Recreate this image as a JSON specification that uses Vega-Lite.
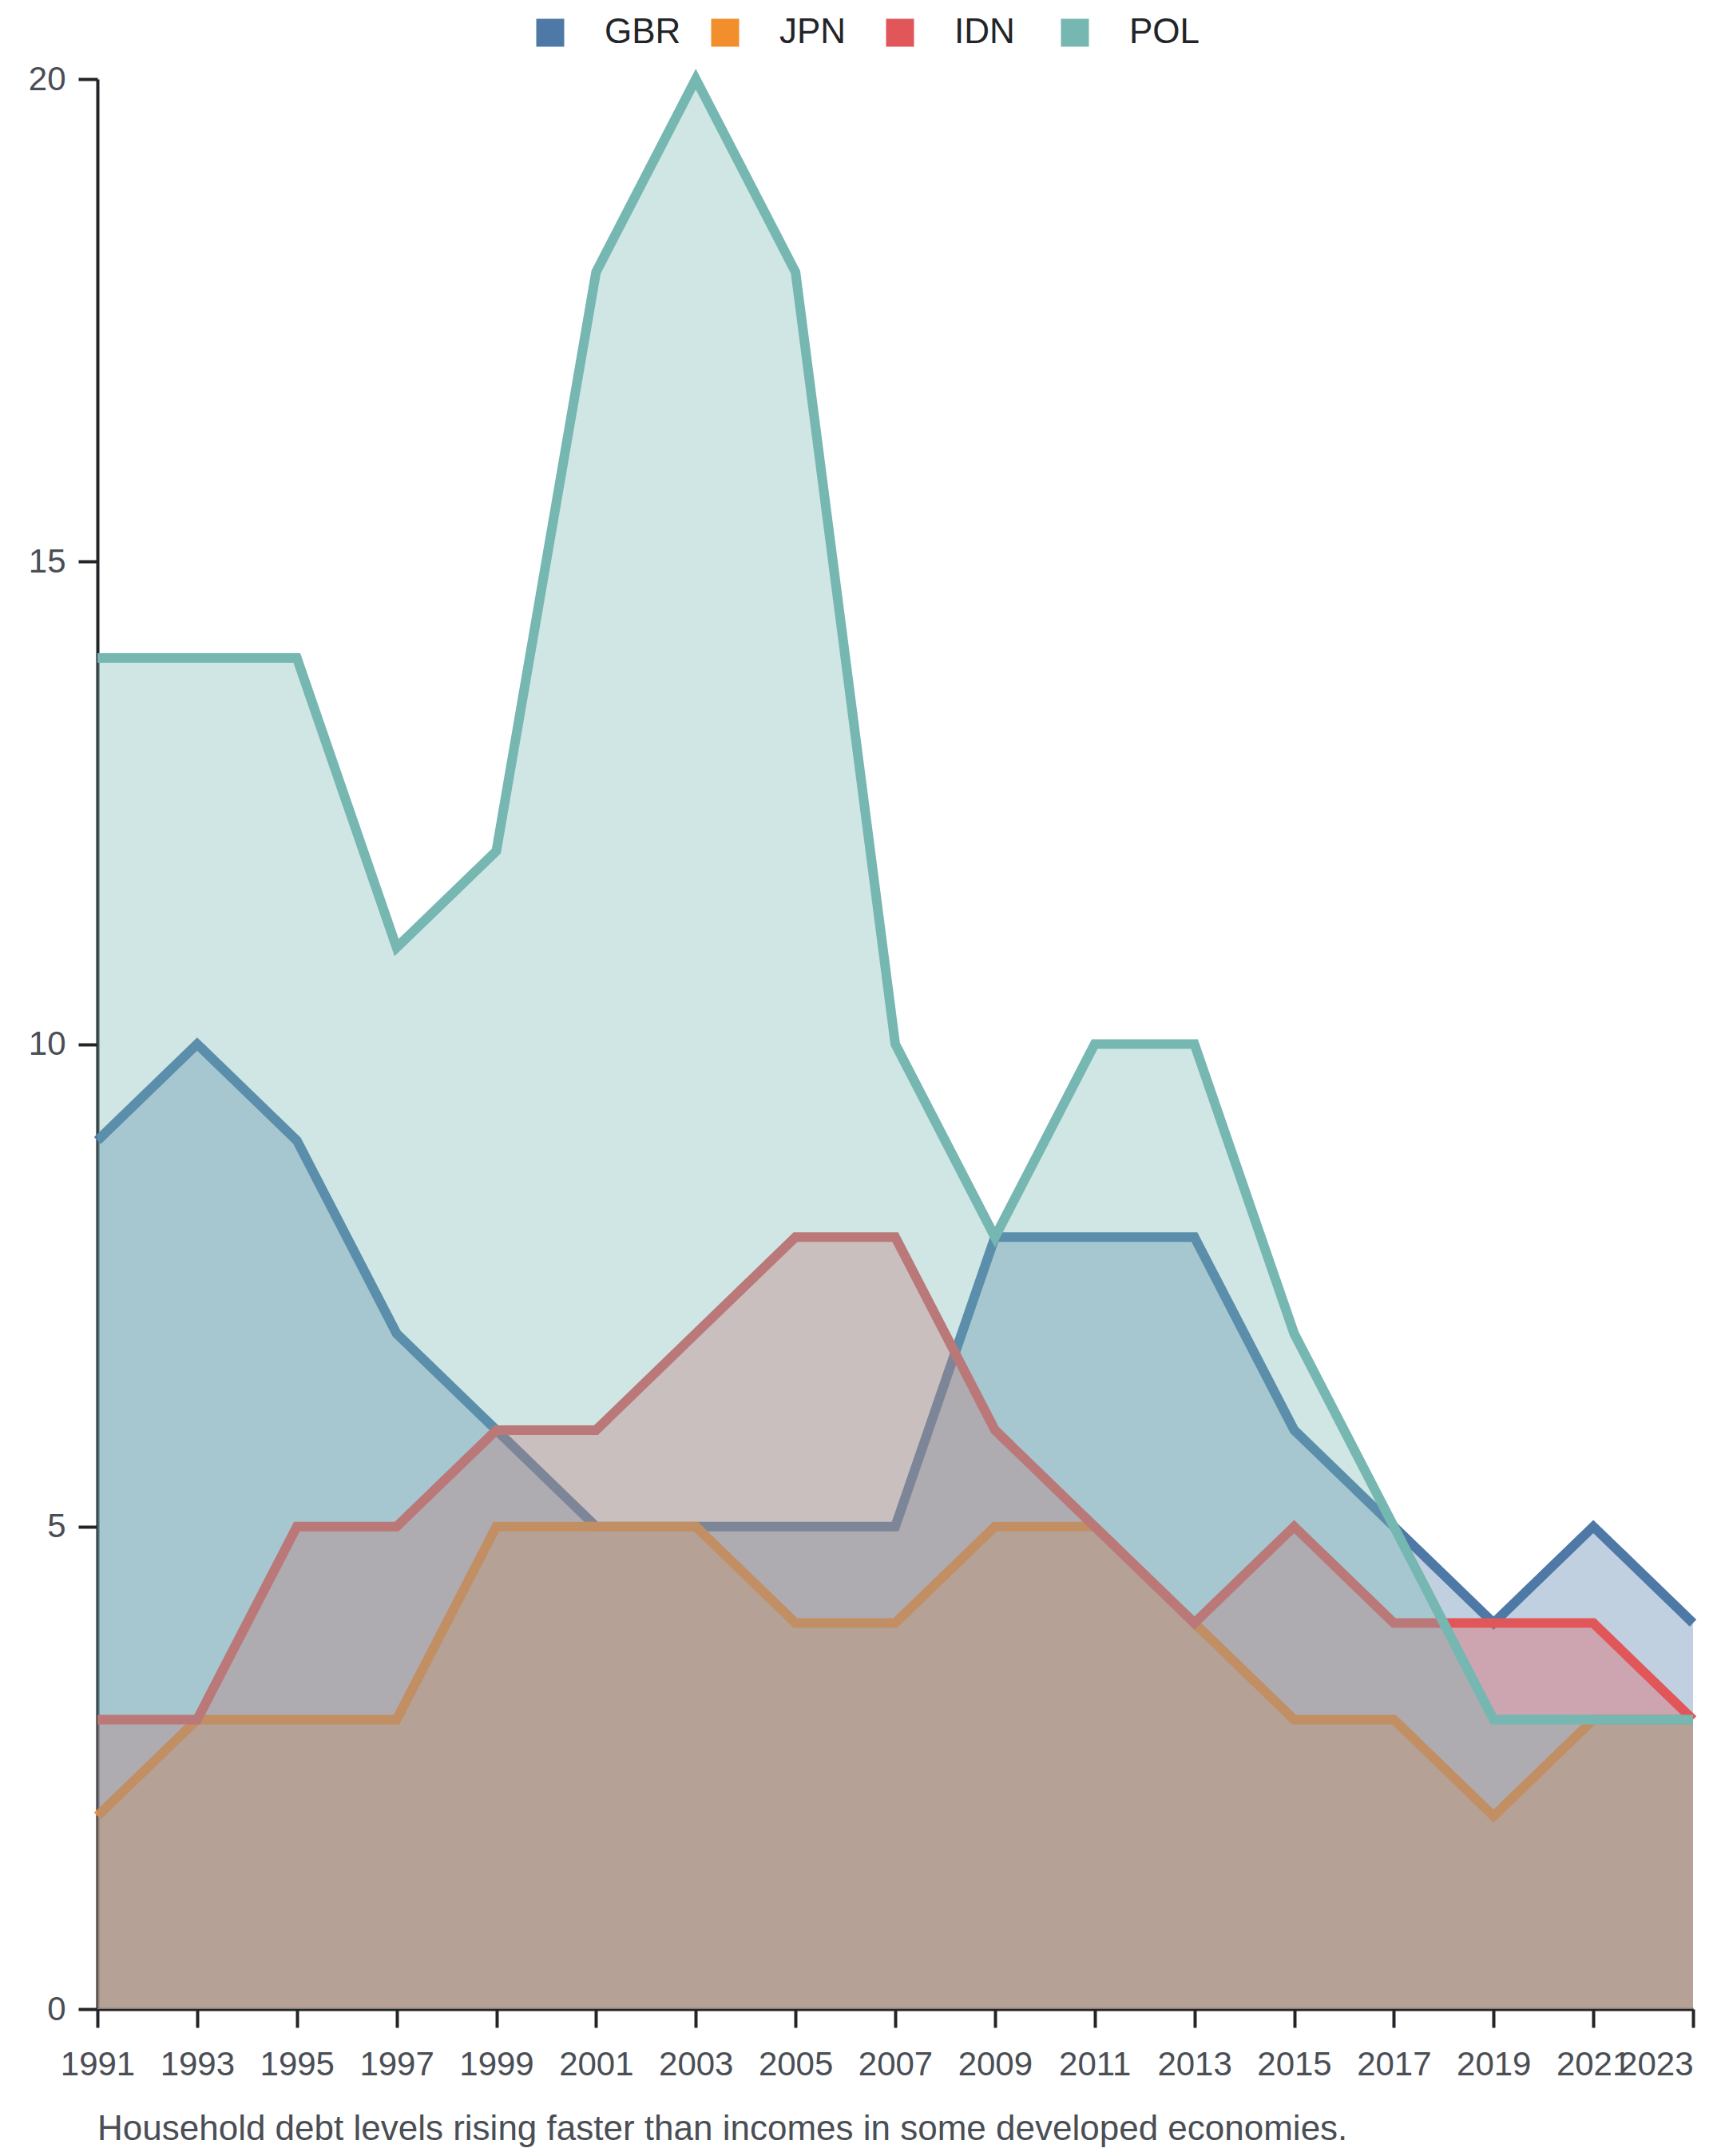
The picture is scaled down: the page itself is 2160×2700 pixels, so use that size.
{
  "$schema": "https://vega.github.io/schema/vega-lite/v6.json",
  "width": 1998,
  "height": 2417,
  "autosize": {"type": "none"},
  "padding": {"left": 122, "top": 99, "right": 40, "bottom": 184},
  "background": "white",
  "title": {
    "text": "Household debt levels rising faster than incomes in some developed economies.",
    "orient": "bottom",
    "anchor": "start",
    "frame": "group",
    "font": "Liberation Sans",
    "fontSize": 44,
    "fontWeight": "normal",
    "color": "#4a4e55",
    "offset": 39
  },
  "data": {
    "values": [
      {"year": 1991, "country": "GBR", "value": 9},
      {"year": 1993, "country": "GBR", "value": 10},
      {"year": 1995, "country": "GBR", "value": 9},
      {"year": 1997, "country": "GBR", "value": 7},
      {"year": 1999, "country": "GBR", "value": 6},
      {"year": 2001, "country": "GBR", "value": 5},
      {"year": 2003, "country": "GBR", "value": 5},
      {"year": 2005, "country": "GBR", "value": 5},
      {"year": 2007, "country": "GBR", "value": 5},
      {"year": 2009, "country": "GBR", "value": 8},
      {"year": 2011, "country": "GBR", "value": 8},
      {"year": 2013, "country": "GBR", "value": 8},
      {"year": 2015, "country": "GBR", "value": 6},
      {"year": 2017, "country": "GBR", "value": 5},
      {"year": 2019, "country": "GBR", "value": 4},
      {"year": 2021, "country": "GBR", "value": 5},
      {"year": 2023, "country": "GBR", "value": 4},
      {"year": 1991, "country": "JPN", "value": 2},
      {"year": 1993, "country": "JPN", "value": 3},
      {"year": 1995, "country": "JPN", "value": 3},
      {"year": 1997, "country": "JPN", "value": 3},
      {"year": 1999, "country": "JPN", "value": 5},
      {"year": 2001, "country": "JPN", "value": 5},
      {"year": 2003, "country": "JPN", "value": 5},
      {"year": 2005, "country": "JPN", "value": 4},
      {"year": 2007, "country": "JPN", "value": 4},
      {"year": 2009, "country": "JPN", "value": 5},
      {"year": 2011, "country": "JPN", "value": 5},
      {"year": 2013, "country": "JPN", "value": 4},
      {"year": 2015, "country": "JPN", "value": 3},
      {"year": 2017, "country": "JPN", "value": 3},
      {"year": 2019, "country": "JPN", "value": 2},
      {"year": 2021, "country": "JPN", "value": 3},
      {"year": 2023, "country": "JPN", "value": 3},
      {"year": 1991, "country": "IDN", "value": 3},
      {"year": 1993, "country": "IDN", "value": 3},
      {"year": 1995, "country": "IDN", "value": 5},
      {"year": 1997, "country": "IDN", "value": 5},
      {"year": 1999, "country": "IDN", "value": 6},
      {"year": 2001, "country": "IDN", "value": 6},
      {"year": 2003, "country": "IDN", "value": 7},
      {"year": 2005, "country": "IDN", "value": 8},
      {"year": 2007, "country": "IDN", "value": 8},
      {"year": 2009, "country": "IDN", "value": 6},
      {"year": 2011, "country": "IDN", "value": 5},
      {"year": 2013, "country": "IDN", "value": 4},
      {"year": 2015, "country": "IDN", "value": 5},
      {"year": 2017, "country": "IDN", "value": 4},
      {"year": 2019, "country": "IDN", "value": 4},
      {"year": 2021, "country": "IDN", "value": 4},
      {"year": 2023, "country": "IDN", "value": 3},
      {"year": 1991, "country": "POL", "value": 14},
      {"year": 1993, "country": "POL", "value": 14},
      {"year": 1995, "country": "POL", "value": 14},
      {"year": 1997, "country": "POL", "value": 11},
      {"year": 1999, "country": "POL", "value": 12},
      {"year": 2001, "country": "POL", "value": 18},
      {"year": 2003, "country": "POL", "value": 20},
      {"year": 2005, "country": "POL", "value": 18},
      {"year": 2007, "country": "POL", "value": 10},
      {"year": 2009, "country": "POL", "value": 8},
      {"year": 2011, "country": "POL", "value": 10},
      {"year": 2013, "country": "POL", "value": 10},
      {"year": 2015, "country": "POL", "value": 7},
      {"year": 2017, "country": "POL", "value": 5},
      {"year": 2019, "country": "POL", "value": 3},
      {"year": 2021, "country": "POL", "value": 3},
      {"year": 2023, "country": "POL", "value": 3}
    ]
  },
  "encoding": {
    "x": {
      "field": "year",
      "type": "quantitative",
      "title": null,
      "scale": {"domain": [1991, 2023], "nice": false, "zero": false},
      "axis": {
        "values": [1991, 1993, 1995, 1997, 1999, 2001, 2003, 2005, 2007, 2009, 2011, 2013, 2015, 2017, 2019, 2021, 2023],
        "format": "d",
        "tickSize": 23,
        "labelPadding": 26,
        "labelOverlap": false,
        "labelAlign": {"condition": {"test": "datum.value == 2023", "value": "right"}, "value": "center"}
      }
    },
    "y": {
      "field": "value",
      "type": "quantitative",
      "title": null,
      "scale": {"domain": [0, 20], "nice": false},
      "axis": {"values": [0, 5, 10, 15, 20], "tickSize": 24, "labelPadding": 16}
    },
    "color": {
      "field": "country",
      "type": "nominal",
      "scale": {
        "domain": ["GBR", "JPN", "IDN", "POL"],
        "range": ["#4e79a7", "#f28e2b", "#e15759", "#76b7b2"]
      },
      "legend": {
        "title": null,
        "orient": "none",
        "direction": "horizontal",
        "legendX": 545,
        "legendY": -80,
        "symbolType": "square",
        "symbolSize": 1225,
        "symbolStrokeWidth": 0,
        "symbolOpacity": 1,
        "labelOffset": 46,
        "columnPadding": 33,
        "gridAlign": "all",
        "labelFont": "Liberation Sans",
        "labelFontSize": 44,
        "labelColor": "#222428"
      }
    }
  },
  "layer": [
    {"transform": [{"filter": "datum.country == 'GBR'"}], "mark": {"type": "area", "fillOpacity": 0.35}},
    {"transform": [{"filter": "datum.country == 'GBR'"}], "mark": {"type": "line", "strokeWidth": 12, "strokeJoin": "miter", "strokeCap": "butt"}},
    {"transform": [{"filter": "datum.country == 'JPN'"}], "mark": {"type": "area", "fillOpacity": 0.35}},
    {"transform": [{"filter": "datum.country == 'JPN'"}], "mark": {"type": "line", "strokeWidth": 12, "strokeJoin": "miter", "strokeCap": "butt"}},
    {"transform": [{"filter": "datum.country == 'IDN'"}], "mark": {"type": "area", "fillOpacity": 0.35}},
    {"transform": [{"filter": "datum.country == 'IDN'"}], "mark": {"type": "line", "strokeWidth": 12, "strokeJoin": "miter", "strokeCap": "butt"}},
    {"transform": [{"filter": "datum.country == 'POL'"}], "mark": {"type": "area", "fillOpacity": 0.35}},
    {"transform": [{"filter": "datum.country == 'POL'"}], "mark": {"type": "line", "strokeWidth": 12, "strokeJoin": "miter", "strokeCap": "butt"}}
  ],
  "config": {
    "view": {"stroke": null},
    "axis": {
      "grid": false,
      "domainColor": "#222428",
      "domainWidth": 4,
      "tickColor": "#222428",
      "tickWidth": 4,
      "labelFont": "Liberation Sans",
      "labelFontSize": 42,
      "labelColor": "#4a4e55"
    }
  }
}
